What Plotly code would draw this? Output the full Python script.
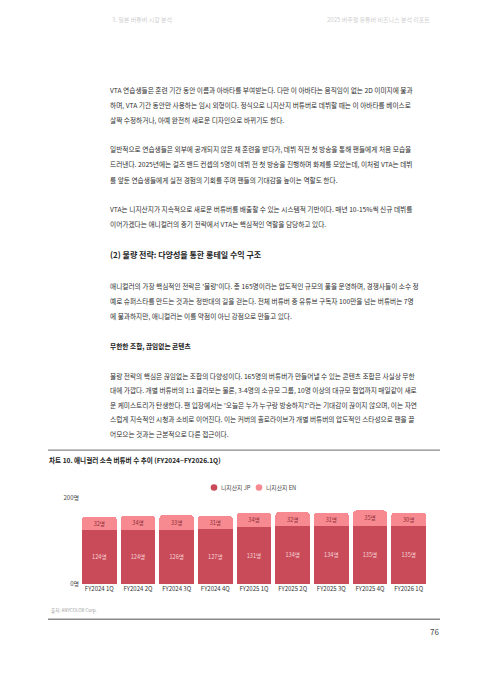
import plotly.graph_objects as go

# 데이터
quarters = ["FY2024 1Q", "FY2024 2Q", "FY2024 3Q", "FY2024 4Q", "FY2025 1Q",
            "FY2025 2Q", "FY2025 3Q", "FY2025 4Q", "FY2026 1Q"]
jp_counts = [124, 124, 126, 127, 131, 134, 134, 135, 135]
en_counts = [32, 34, 33, 31, 34, 32, 31, 35, 30]
y_ticks = [0, 200]
y_tick_text = ["0명", "200명"]

# 브라우저 body 여백(8px)만큼 보정
OFF = 8
W, H = 480 - OFF, 679 - OFF
FONT = "Noto Sans CJK KR"
JP_COLOR = "#C94B59"
EN_COLOR = "#F78A90"


def py(px):
    # 페이지 픽셀 y -> paper 좌표
    return 1 - (px - OFF) / H


def px_x(px):
    return (px - OFF) / W


fig = go.Figure()

fig.add_trace(go.Bar(
    x=quarters, y=jp_counts, name="니지산지 JP",
    marker=dict(color=JP_COLOR, line=dict(width=0)),
    text=[f"{v}명" for v in jp_counts], texttemplate="%{text}",
    textposition="inside", insidetextanchor="middle", constraintext="none",
    textfont=dict(family=FONT, size=5.6, color="#F6D3D7"),
    showlegend=False, hoverinfo="skip",
))
fig.add_trace(go.Bar(
    x=quarters, y=en_counts, name="니지산지 EN",
    marker=dict(color=EN_COLOR, line=dict(width=0)),
    text=[f"{v}명" for v in en_counts], texttemplate="%{text}",
    textposition="inside", insidetextanchor="middle", constraintext="none",
    textfont=dict(family=FONT, size=5.8, color="#8E2A36"),
    showlegend=False, hoverinfo="skip",
))

# 범례 (원형 마커 + 글자)
legend_items = [("니지산지 JP", JP_COLOR, 214), ("니지산지 EN", EN_COLOR, 259)]
for name, color, cx in legend_items:
    r = 3.3
    fig.add_shape(type="circle", xref="paper", yref="paper",
                  x0=px_x(cx - r), x1=px_x(cx + r), y0=py(489 + r), y1=py(489 - r),
                  fillcolor=color, line=dict(width=0))
    fig.add_annotation(x=px_x(cx + 5), y=py(489), xref="paper", yref="paper",
                       text=name, showarrow=False, xanchor="left", yanchor="middle",
                       font=dict(family=FONT, size=5.8, color="#444"))

# 본문 텍스트
body = [
    (86, "VTA 연습생들은 훈련 기간 동안 이름과 아바타를 부여받는다. 다만 이 아바타는 움직임이 없는 2D 이미지에 불과"),
    (101, "하며, VTA 기간 동안만 사용하는 임시 외형이다. 정식으로 니지산지 버튜버로 데뷔할 때는 이 아바타를 베이스로"),
    (116, "살짝 수정하거나, 아예 완전히 새로운 디자인으로 바뀌기도 한다."),
    (146, "일반적으로 연습생들은 외부에 공개되지 않은 채 훈련을 받다가, 데뷔 직전 첫 방송을 통해 팬들에게 처음 모습을"),
    (161.5, "드러낸다. 2025년에는 걸즈 밴드 컨셉의 5명이 데뷔 전 첫 방송을 진행하며 화제를 모았는데, 이처럼 VTA는 데뷔"),
    (177, "를 앞둔 연습생들에게 실전 경험의 기회를 주며 팬들의 기대감을 높이는 역할도 한다."),
    (207, "VTA는 니지산지가 지속적으로 새로운 버튜버를 배출할 수 있는 시스템적 기반이다. 매년 10-15%씩 신규 데뷔를"),
    (222, "이어가겠다는 애니컬러의 중기 전략에서 VTA는 핵심적인 역할을 담당하고 있다."),
    (285, "애니컬러의 가장 핵심적인 전략은 '물량'이다. 총 165명이라는 압도적인 규모의 풀을 운영하며, 경쟁사들이 소수 정"),
    (300, "예로 슈퍼스타를 만드는 것과는 정반대의 길을 걷는다. 전체 버튜버 중 유튜브 구독자 100만을 넘는 버튜버는 7명"),
    (315, "에 불과하지만, 애니컬러는 이를 약점이 아닌 강점으로 만들고 있다."),
    (376, "물량 전략의 핵심은 끊임없는 조합의 다양성이다. 165명의 버튜버가 만들어낼 수 있는 콘텐츠 조합은 사실상 무한"),
    (390.5, "대에 가깝다. 개별 버튜버의 1:1 콜라보는 물론, 3-4명의 소규모 그룹, 10명 이상의 대규모 협업까지 매일같이 새로"),
    (405, "운 케미스트리가 탄생한다. 팬 입장에서는 '오늘은 누가 누구랑 방송하지?'라는 기대감이 끊이지 않으며, 이는 자연"),
    (420, "스럽게 지속적인 시청과 소비로 이어진다. 이는 커버의 홀로라이브가 개별 버튜버의 압도적인 스타성으로 팬을 끌"),
    (435, "어모으는 것과는 근본적으로 다른 접근이다."),
]
for ypx, line in body:
    fig.add_annotation(x=px_x(108), y=py(ypx), xref="paper", yref="paper",
                       text=line, showarrow=False, xanchor="left", yanchor="middle",
                       font=dict(family=FONT, size=6.7, color="#2e2e2e"))

# 소제목
fig.add_annotation(x=px_x(108), y=py(253), xref="paper", yref="paper",
                   text="<b>(2) 물량 전략: 다양성을 통한 롱테일 수익 구조</b>", showarrow=False,
                   xanchor="left", yanchor="middle",
                   font=dict(family=FONT, size=8, color="#222"))
fig.add_annotation(x=px_x(108), y=py(346), xref="paper", yref="paper",
                   text="<b>무한한 조합, 끊임없는 콘텐츠</b>", showarrow=False,
                   xanchor="left", yanchor="middle",
                   font=dict(family=FONT, size=6.7, color="#222"))

# 머리말
fig.add_annotation(x=px_x(110), y=py(15), xref="paper", yref="paper",
                   text="3. 일본 버튜버 시장 분석", showarrow=False,
                   xanchor="left", yanchor="middle",
                   font=dict(family=FONT, size=6, color="#cfcfcf"))
fig.add_annotation(x=px_x(432), y=py(15), xref="paper", yref="paper",
                   text="2025 버추얼 유튜버 비즈니스 분석 리포트", showarrow=False,
                   xanchor="right", yanchor="middle",
                   font=dict(family=FONT, size=6, color="#cfcfcf"))

# 차트 제목, 출처, 쪽번호
fig.add_annotation(x=px_x(47), y=py(461), xref="paper", yref="paper",
                   text="<b>차트 10. 애니컬러 소속 버튜버 수 추이 (FY2024~FY2026.1Q)</b>",
                   showarrow=False, xanchor="left", yanchor="middle",
                   font=dict(family=FONT, size=6.6, color="#222"))
fig.add_annotation(x=px_x(49), y=py(614), xref="paper", yref="paper",
                   text="출처: ANYCOLOR Corp.", showarrow=False,
                   xanchor="left", yanchor="middle",
                   font=dict(family=FONT, size=4.5, color="#a0a0a0"))
fig.add_annotation(x=px_x(441), y=py(635), xref="paper", yref="paper",
                   text="76", showarrow=False, xanchor="right", yanchor="middle",
                   font=dict(family=FONT, size=8, color="#444"))

# 구분선
for ypx in (451, 622.5):
    fig.add_shape(type="line", xref="paper", yref="paper",
                  x0=px_x(48), x1=px_x(440), y0=py(ypx), y1=py(ypx),
                  line=dict(color="#8a8a8a", width=1.3))

fig.update_layout(
    width=W, height=H,
    margin=dict(l=0, r=0, t=0, b=0),
    paper_bgcolor="white", plot_bgcolor="white",
    barmode="stack", bargap=0.1, barcornerradius=4,
    uniformtext=dict(minsize=5.5, mode="show"),
    font=dict(family=FONT, color="#333"),
    showlegend=False,
    xaxis=dict(domain=[px_x(80), px_x(428)], showgrid=False, zeroline=False,
               showline=False, ticks="",
               tickfont=dict(family=FONT, size=6, color="#333"), fixedrange=True),
    yaxis=dict(domain=[py(587), py(499)], range=[0, 200], tickvals=y_ticks,
               ticktext=y_tick_text, showgrid=True, gridcolor="#e6e6e6", gridwidth=1,
               zeroline=False, showline=False, ticks="",
               tickfont=dict(family=FONT, size=6, color="#444"), fixedrange=True),
)

fig.write_html("out.html")
